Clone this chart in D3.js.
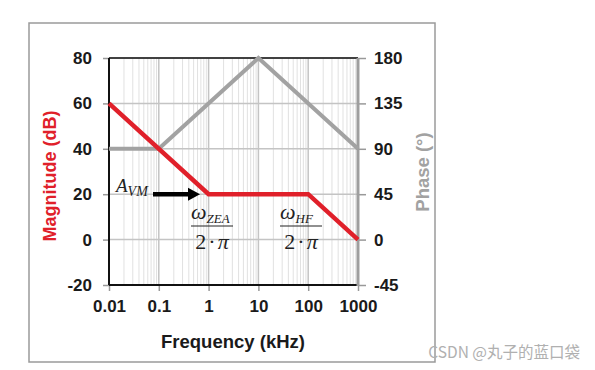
<!DOCTYPE html>
<html>
<head>
<meta charset="utf-8">
<script src="https://cdn.jsdelivr.net/npm/d3@7"></script>
<style>
  body { margin: 0; background: #fff; }
  svg { display: block; }
  .tick text { font-family: "Liberation Sans", Arial, sans-serif; font-weight: bold; font-size: 17px; fill: #1a1a1a; }
  .math { font-family: "Liberation Serif", "Times New Roman", serif; font-style: italic; fill: #222; }
</style>
</head>
<body>
<svg width="595" height="370"></svg>
<script>
// axis ticks
var freqTicks = [0.01, 0.1, 1, 10, 100, 1000];
var magTicks = [-20, 0, 20, 40, 60, 80];
var phaseTicks = [-45, 0, 45, 90, 135, 180];

// asymptotic bode plot corners
var magFreq = [0.01, 1, 100, 1000];
var magDb = [60, 20, 20, 0];
var phaseFreq = [0.01, 0.1, 10, 1000];
var phaseDeg = [90, 90, 180, 90];

var svg = d3.select("svg"),
    plot = {left: 109, right: 358, top: 58, bottom: 285};

var x = d3.scaleLog().domain([0.01, 1000]).range([plot.left, plot.right]),
    yMag = d3.scaleLinear().domain([-20, 80]).range([plot.bottom, plot.top]),
    yPh = d3.scaleLinear().domain([-45, 180]).range([plot.bottom, plot.top]);

var plain = function(d) { return String(d); };

// outer frame
svg.append("rect")
    .attr("x", 29).attr("y", 23).attr("width", 406).attr("height", 339)
    .attr("fill", "none").attr("stroke", "#9a9a9a").attr("stroke-width", 1.5);

// minor grid
var minor = [];
freqTicks.slice(0, -1).forEach(function(d) {
  for (var k = 2; k < 10; k++) minor.push(d * k);
});
svg.append("g").selectAll("line")
  .data(minor)
  .enter().append("line")
    .attr("x1", function(d) { return x(d); }).attr("x2", function(d) { return x(d); })
    .attr("y1", plot.top).attr("y2", plot.bottom)
    .attr("stroke", "#dedede").attr("stroke-width", 0.9);

// major grid
svg.append("g").selectAll("line")
  .data(freqTicks)
  .enter().append("line")
    .attr("x1", function(d) { return x(d); }).attr("x2", function(d) { return x(d); })
    .attr("y1", plot.top).attr("y2", plot.bottom)
    .attr("stroke", "#c4c4c4").attr("stroke-width", 1.5);
svg.append("g").selectAll("line")
  .data(magTicks)
  .enter().append("line")
    .attr("x1", plot.left).attr("x2", plot.right)
    .attr("y1", function(d) { return yMag(d); }).attr("y2", function(d) { return yMag(d); })
    .attr("stroke", "#c4c4c4").attr("stroke-width", 1.5);

// axes
function styleAxis(g, col) {
  g.select(".domain").remove();
  g.selectAll(".tick line").attr("stroke", col).attr("stroke-width", 1.5);
}
svg.append("g")
    .attr("transform", "translate(" + plot.left + ",0)")
    .call(d3.axisLeft(yMag).tickValues(magTicks).tickFormat(plain).tickSize(6).tickPadding(11))
    .call(styleAxis, "#999");
svg.append("g")
    .attr("transform", "translate(" + plot.right + ",0)")
    .call(d3.axisRight(yPh).tickValues(phaseTicks).tickFormat(plain).tickSize(8).tickPadding(8))
    .call(styleAxis, "#999");
svg.append("g")
    .attr("transform", "translate(0," + plot.bottom + ")")
    .call(d3.axisBottom(x).tickValues(freqTicks).tickFormat(plain).tickSize(6).tickPadding(9))
    .call(styleAxis, "#999");

// plot borders
svg.append("line").attr("x1", plot.left).attr("x2", plot.right).attr("y1", plot.top).attr("y2", plot.top)
    .attr("stroke", "#111").attr("stroke-width", 1.5);
svg.append("line").attr("x1", plot.left).attr("x2", plot.left).attr("y1", plot.top).attr("y2", plot.bottom)
    .attr("stroke", "#111").attr("stroke-width", 2);
svg.append("line").attr("x1", plot.left).attr("x2", plot.right).attr("y1", plot.bottom).attr("y2", plot.bottom)
    .attr("stroke", "#111").attr("stroke-width", 2);
svg.append("line").attr("x1", plot.right).attr("x2", plot.right).attr("y1", plot.top).attr("y2", plot.bottom + 1)
    .attr("stroke", "#9e9e9e").attr("stroke-width", 3);

// curves
var phaseLine = d3.line()
    .x(function(d, i) { return x(phaseFreq[i]); })
    .y(function(d) { return yPh(d); });
svg.append("path")
    .attr("d", phaseLine(phaseDeg))
    .attr("fill", "none").attr("stroke", "#a2a2a2").attr("stroke-width", 4);

var magLine = d3.line()
    .x(function(d, i) { return x(magFreq[i]); })
    .y(function(d) { return yMag(d); });
svg.append("path")
    .attr("d", magLine(magDb))
    .attr("fill", "none").attr("stroke", "#e0202a").attr("stroke-width", 4.5);

// axis titles
var sans = '"Liberation Sans", Arial, sans-serif';
svg.append("text")
    .attr("transform", "translate(56,176) rotate(-90)")
    .attr("text-anchor", "middle")
    .style("font-family", sans).style("font-weight", "bold").style("font-size", "18px")
    .attr("fill", "#e0202a")
    .text("Magnitude (dB)");
svg.append("text")
    .attr("transform", "translate(429,172) rotate(-90)")
    .attr("text-anchor", "middle")
    .style("font-family", sans).style("font-weight", "bold").style("font-size", "18.5px")
    .attr("fill", "#a2a2a2")
    .text("Phase (°)");
svg.append("text")
    .attr("x", 233).attr("y", 348)
    .attr("text-anchor", "middle")
    .style("font-family", sans).style("font-weight", "bold").style("font-size", "18.5px")
    .attr("fill", "#1a1a1a")
    .text("Frequency (kHz)");

// A_VM label and arrow
var av = svg.append("text").attr("class", "math").attr("x", 116).attr("y", 192).style("font-size", "19px");
av.append("tspan").text("A");
av.append("tspan").attr("dy", 4).style("font-size", "14px").text("VM");

var ay = yMag(20);
svg.append("line").attr("x1", 153).attr("x2", 189).attr("y1", ay).attr("y2", ay)
    .attr("stroke", "#000").attr("stroke-width", 4.5);
svg.append("path")
    .attr("d", "M188," + (ay - 6.5) + "L200," + ay + "L188," + (ay + 6.5) + "Z")
    .attr("fill", "#000");

// corner frequency fractions
function fraction(cx, sub) {
  var t = svg.append("text").attr("class", "math").attr("x", cx - 21).attr("y", 219).style("font-size", "22px");
  t.append("tspan").text("ω");
  t.append("tspan").attr("dy", 4).style("font-size", "13px").text(sub);
  svg.append("line").attr("x1", cx - 21).attr("x2", cx + 21).attr("y1", 226).attr("y2", 226)
      .attr("stroke", "#222").attr("stroke-width", 1.2);
  var b = svg.append("text").attr("class", "math").attr("x", cx).attr("y", 249)
      .attr("text-anchor", "middle").style("font-size", "22px");
  b.append("tspan").style("font-style", "normal").text("2");
  b.append("tspan").style("font-style", "normal").attr("dx", 2).text("·");
  b.append("tspan").attr("dx", 2).text("π");
}
fraction(212, "ZEA");
fraction(301, "HF");

// watermark
svg.append("text")
    .attr("x", 580).attr("y", 358)
    .attr("text-anchor", "end")
    .style("font-family", '"Noto Sans CJK SC", sans-serif').style("font-size", "15.5px")
    .attr("fill", "#b0b0b0")
    .text("CSDN @丸子的蓝口袋");
</script>
</body>
</html>
